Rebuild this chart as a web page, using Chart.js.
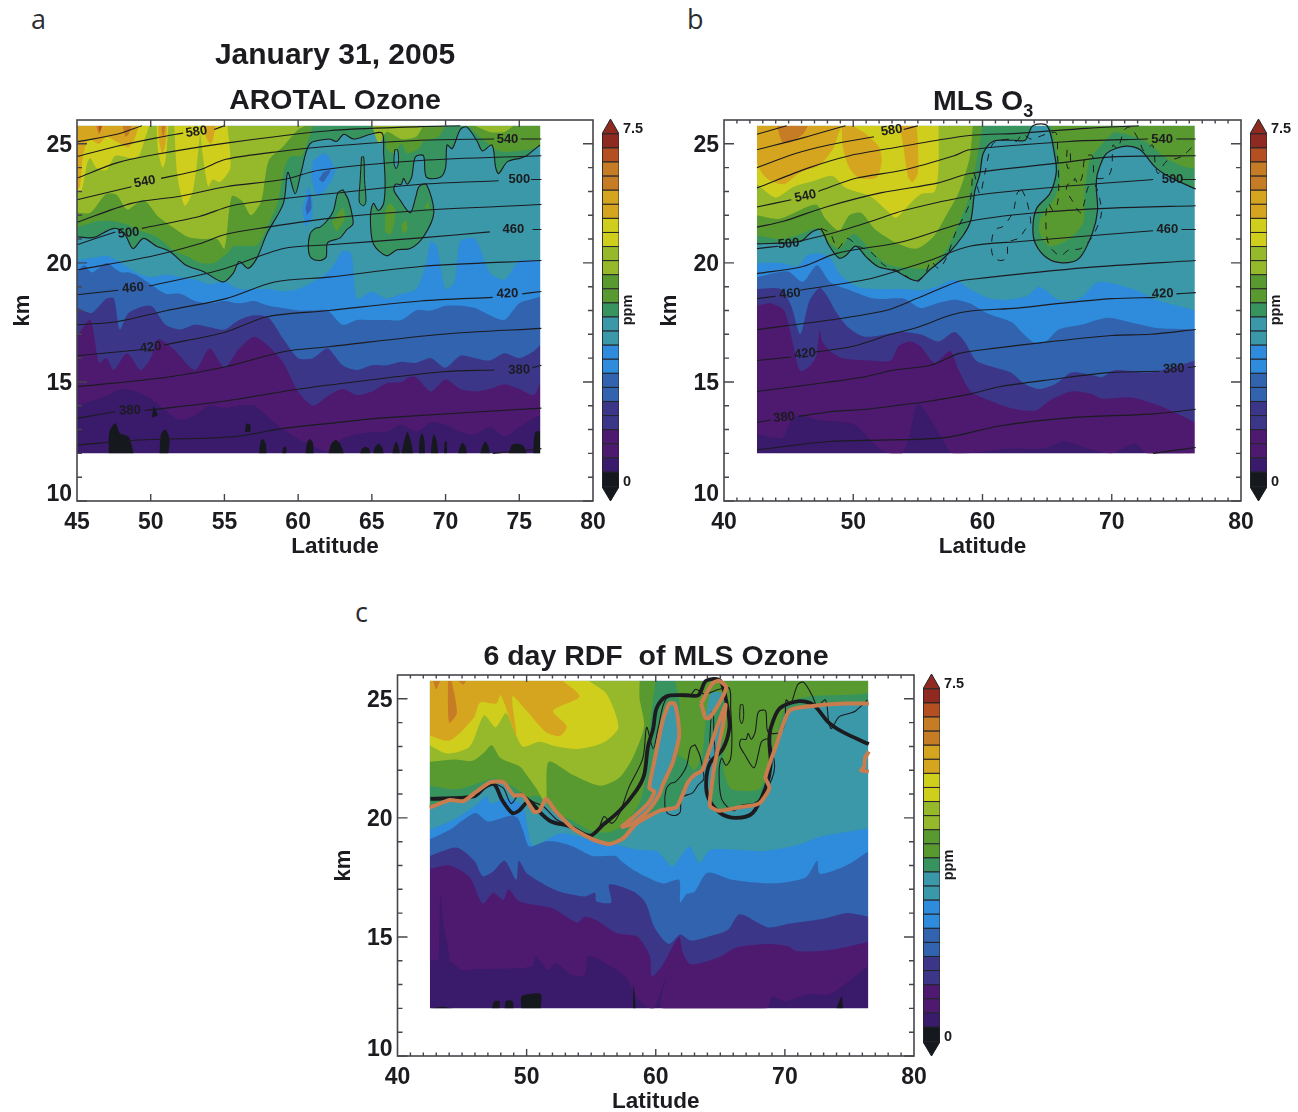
<!DOCTYPE html>
<html><head><meta charset="utf-8">
<script src="https://cdn.jsdelivr.net/npm/chart.js@4"></script>
<style>
html,body{margin:0;padding:0;background:#fff;width:1298px;height:1112px;overflow:hidden}
canvas{position:absolute}
.tag{position:absolute;font:27px "Open Sans",sans-serif;color:#2b2b30;line-height:30px}
</style></head><body>
<div class="tag" style="left:31px;top:4px">a</div>
<div class="tag" style="left:687px;top:4px">b</div>
<div class="tag" style="left:355px;top:597px">c</div>
<script>
const C={dark:'#3a1a6a',purple:'#4d1a70',indigo:'#3c3689',midblue:'#3163ae',blue:'#2f8bdb',teal:'#3a98a8',sea:'#38945e',green:'#589a30',ygreen:'#95b92a',yellow:'#cfce1c',gold:'#d6a51f',orange:'#c67c25',ored:'#b34f20',red:'#8f2a20',black:'#15181c',copper:'#c97c4e',ink:'#1b1b20'};
const TOP=25.76, FONT='"Liberation Sans",Arial,sans-serif';

/* ---------- colour bar ---------- */
const barColors=[C.dark,C.purple,C.purple,C.indigo,C.indigo,C.midblue,C.midblue,C.blue,C.blue,C.teal,C.teal,C.sea,C.green,C.green,C.ygreen,C.ygreen,C.yellow,C.yellow,C.gold,C.gold,C.orange,C.orange,C.ored,C.red];
const barStep=0.3125;

/* ---------- shared tick lists ---------- */
const kmMajor=[10,15,20,25];
const kmMinor=[11,12,13,14,16,17,18,19,21,22,23,24];
const latMajorA=[50,55,60,65,70,75];
const latMajorB=[50,60,70];
const latMinorB=[41,42,43,44,45,46,47,48,49,51,52,53,54,55,56,57,58,59,61,62,63,64,65,66,67,68,69,71,72,73,74,75,76,77,78,79];

/* ---------- panel a: AROTAL, ozone band lower edges [lat,km] ---------- */
const aBase=[[45,12],[76.5,12],[76.5,TOP],[45,TOP]];
const aPurple=[[45,14],[46,14.2],[47,14.4],[48,14.7],[49,14.6],[50,14.3],[51,13.8],[52,13.4],[53,13.6],[54,14],[55,13.9],[56,14],[57,14],[58,13.5],[59,13],[60,12.6],[61,12.3],[62,12.1],[63,12.6],[64,12.8],[65,12.9],[66,12.9],[67,13.2],[68,12.9],[69,13.3],[70,13.2],[71,12.9],[72,12.8],[73,13.1],[74,12.7],[75,13.1],[76,13.5],[76.5,13.6]];
const aIndigo=[[45,16.9],[45.9,17.6],[46.5,15.8],[47,16],[47.5,15.5],[48.4,16.2],[49.3,15.5],[50,16],[50.5,16.8],[51.5,16.4],[53,15.5],[54,16.4],[55,15.6],[56,16.4],[57,16.9],[58,16.5],[59,15.8],[60,14.6],[61,14],[62,14.4],[63,14.7],[64,14.45],[65,14.6],[66,14.95],[67,15],[67.5,15.2],[68,15.2],[69,14.6],[70,15.1],[71,14.7],[72,14.6],[73,14.7],[74,14.9],[75,14.7],[76,14.45],[76.5,15.1]];
const aMidblue=[[45,18.1],[46,17.9],[47,18.5],[47.5,18.5],[47.9,17.2],[48.5,17.9],[50,18.2],[51,17.4],[52,17.2],[53,17.4],[54,17.3],[55,17.2],[56,17.6],[57,17.8],[58,17.7],[59,16.8],[60,16],[61,16],[62,16.4],[63,15.7],[64,15.5],[65,15.7],[66,15.7],[67,15.85],[68,15.8],[69,16],[70,15.6],[71,16.1],[72,16],[73,15.9],[74,16.2],[75,16],[76,16.3],[76.5,16.6]];
const aBlue=[[45,19.6],[45.5,19.9],[46,19.6],[47,20],[47.5,19.8],[48,19.6],[48.5,19.6],[49,19.5],[50,19.1],[51,18.7],[52,18.7],[53,18.4],[54,18.3],[55,18.4],[56,18.3],[57,18.4],[58,18.2],[59,18.1],[60,18],[61,18],[62,18],[63,17.4],[64,17.6],[65,17.6],[66,17.6],[67,17.6],[68,18],[69,18],[70,18.2],[71,18.2],[72,18.1],[73,17.8],[74,17.6],[75,18.3],[76,18.5],[76.5,18.6]];
const aTeal=[[45,20.1],[46,20.2],[47,20.3],[48,20],[49,19.6],[50,19.4],[51,19.5],[52,19.4],[53,19.3],[54,19.1],[55,19.2],[56,18.9],[57,18.9],[58,18.9],[59,18.8],[60,18.9],[61,19.2],[62,19.6],[62.5,20],[63,20.5],[63.6,20.4],[64,18.5],[65,18.8],[66,18.5],[67,18.7],[68,18.9],[68.7,20],[69,20.9],[69.4,20.7],[70,18.9],[70.6,19.2],[71,20.9],[72,21],[73,19.6],[74,19.3],[75,20.1],[76,20.1],[76.5,20.1]];
const aContour=[[45,21.1],[45.8,21.05],[46.3,21.1],[47.5,21.45],[48.2,21.25],[48.8,20.6],[49.5,21.03],[50.4,20.7],[51.3,20.48],[52.4,19.9],[53.6,19.63],[54.9,19.2],[55.6,19.57],[56,20.06],[56.6,19.77],[57.2,20.2],[57.9,21.25],[59,22.5],[59.3,23.8],[59.8,22.9],[60.2,23.8],[60.8,25],[62.1,25.2],[62.6,25.1],[63.1,25.4],[63.75,25.2],[64.9,25.4],[65.7,25.45],[65.8,24.6],[65.9,23.35],[65.8,22.5],[65.45,22.2],[65.1,22.5],[64.9,21.95],[65.1,20.8],[66,20.3],[66.7,20.55],[67.6,20.6],[68.5,21.1],[69.2,22.1],[68.7,23.3],[68.2,23.2],[67.95,22.7],[67.6,22.1],[66.9,22.65],[66.5,23.05],[66.6,23.3],[67,23.3],[67.15,23.55],[67.4,23.3],[67.7,23.6],[67.95,24.45],[68.5,24.5],[68.7,23.6],[69.65,23.6],[70,24],[70.1,24.95],[70.45,24.8],[71,25.6],[71.45,25.7],[72.15,25.1],[72.5,24.7],[73.15,24.95],[73.4,24],[73.6,23.75],[74.2,24.25],[75.1,24.4],[75.5,24.5],[76.4,24.95]];
const aIsland=[[63.05,23.07],[63.4,22.65],[63.7,21.9],[63.7,21.6],[63.3,21.4],[62.85,21.05],[62,20.85],[61.9,20.25],[61.5,20.1],[60.9,20.2],[60.7,20.55],[60.8,21.2],[61.15,21.45],[61.5,21.5],[62,21.8],[62.4,22.2],[62.7,22.95],[63.05,23.07]];
const aLoop1=[[64.3,24.45],[64.2,23.4],[64.15,22.55],[64.45,22.4],[64.6,22.6],[64.5,23.5],[64.45,24.45],[64.3,24.45]];
const aLoop2=[[66.55,24.75],[66.5,24.2],[66.65,23.95],[66.8,24.2],[66.75,24.75],[66.55,24.75]];
const aBlueSpots=[[[60.3,22.2],[60.7,23.2],[61,22.5],[60.9,21.8],[60.5,21.5]],[[61,24.3],[61.8,24.6],[62.5,23.9],[62,23.2],[61.3,22.8],[60.9,23.5]]];
const aIndigoSpots=[[[61.7,23.8],[62.2,23.9],[61.7,23.4],[61.4,23.5]],[[60.5,22.3],[60.8,22.9],[60.9,22.3],[60.6,22]]];
const aGreen=[[45,21.5],[46.4,21.75],[47.5,21.75],[48.4,21.6],[49.3,21.35],[50.4,21.1],[51.6,20.5],[52.5,20.27],[53.4,20],[54.3,20],[55.2,20.4],[55.6,20.7],[57.2,20.75],[57.9,21.5],[58.6,22.5],[59.1,24.05],[59.5,24.47],[60.2,24.47],[60.6,25],[61,TOP]];
const aGreenSpots=[[[65.9,TOP],[66,24.8],[66.5,24.6],[67,25],[67.4,24.6],[68.2,24.8],[68.5,25.1],[69.5,25.3],[70,TOP]],[[71.5,TOP],[72.5,25.2],[73.6,24.7],[75,24.7],[76.5,24.95],[76.5,TOP]],[[65.9,22.2],[66.2,22.5],[66.6,22.2],[66.3,21.2],[65.9,21.3]],[[67,21.6],[67.3,21.8],[67.4,21.4],[67.1,21.2]],[[62.3,21.7],[63,22.3],[63.2,21.9],[62.6,21.3]],[[68.6,22.3],[68.8,22.6],[68.9,22.2]]];
const aYgreen=[[45,22.1],[45.9,22.1],[47,22.9],[47.7,22.85],[48.4,22.24],[49.5,22.65],[50.5,21.95],[51.5,21.5],[52.5,21.1],[53.5,21],[54.5,21],[55,20.6],[55.5,22.8],[56.2,22.6],[56.8,22],[57.5,22.6],[58,24.3],[59,24.9],[60,25.6],[60.5,TOP]];
const aYgreenSpots=[[[65,TOP],[65.5,25],[66,25.5],[67,25.2],[68,25.3],[68.5,TOP]],[[72,TOP],[73,25.5],[74,25.5],[74.6,TOP]]];
const aYellows=[[[45,TOP],[45,23],[45.3,23],[45.7,24.2],[45.9,24.4],[46.3,24],[47,23.9],[47.6,24.5],[48.7,24.4],[49.2,24.5],[49.5,25],[49.9,TOP]],[[50.4,TOP],[50.5,24.7],[50.8,24],[51,24.3],[51.2,TOP]],[[51.6,TOP],[51.8,23.7],[52.3,22.4],[52.8,22.9],[53.1,24],[53.4,TOP]],[[53.3,TOP],[53.6,24.2],[53.9,23.2],[54.2,23.5],[54.7,23.4],[55.4,24],[55.2,TOP]]];
const aGolds=[[[45,TOP],[45,23.1],[45.2,23.2],[45.4,24.5],[45.8,25.2],[46.5,25],[47,25.3],[47.8,25.05],[48.5,24.85],[48.9,25.2],[49.2,TOP]],[[50.5,TOP],[50.6,25],[50.8,24.6],[51,25],[51.1,TOP]],[[53.6,TOP],[53.8,25.2],[54.1,25],[54.3,25.4],[54.4,TOP]]];
const aOranges=[[[46.3,TOP],[46.5,25.4],[46.7,TOP]],[[48.1,TOP],[48.3,25.3],[48.5,25.4],[48.7,TOP]],[[50.7,TOP],[50.85,25.3],[51,TOP]]];
const aReds=[[[46.45,TOP],[46.55,25.5],[46.7,TOP]]];
const aBlacks=[[[47.15,12],[47.2,12.9],[47.6,13.26],[47.9,12.85],[48.5,12.7],[48.85,12]],[[50.6,12],[50.7,12.8],[51,13],[51.27,12.6],[51.2,12]],[[57.35,12],[57.45,12.5],[57.6,12.6],[57.8,12.4],[57.85,12]],[[58.9,12],[59,12.25],[59.1,12.3],[59.2,12.2],[59.2,12]],[[60.5,12],[60.6,12.45],[60.8,12.6],[61,12.45],[61.05,12]],[[56.4,12.9],[56.5,13.25],[56.75,13.2],[56.75,12.9]],[[50.1,13.5],[50.2,13.97],[50.5,13.6]],[[62.07,12],[62.25,12.4],[62.55,12.56],[62.85,12.4],[63.1,12]],[[64.2,12],[64.35,12.2],[64.55,12.28],[64.8,12.2],[64.9,12]],[[65.1,12],[65.2,12.25],[65.45,12.4],[65.7,12.25],[65.8,12]],[[66.4,12],[66.5,12.3],[66.65,12.5],[66.8,12.3],[66.9,12]],[[67,12],[67.2,12.5],[67.4,12.9],[67.65,12.5],[67.8,12]],[[68.2,12],[68.25,12.6],[68.4,12.84],[68.55,12.6],[68.6,12]],[[69,12],[69.08,12.5],[69.2,12.8],[69.4,12.5],[69.5,12]],[[69.9,12],[69.95,12.5],[70.08,12.5],[70.1,12]],[[70.85,12],[71,12.3],[71.15,12.45],[71.35,12.3],[71.45,12]],[[72.35,12],[72.5,12.3],[72.7,12.5],[72.9,12.3],[73,12]],[[74.3,12],[74.5,12.35],[74.9,12.4],[75.3,12.3],[75.5,12]],[[75.95,12],[76,12.6],[76.1,12.9],[76.45,12.9],[76.45,12]]];
const aTheta=[
[[45,25.08],[47.7,25.4],[49.4,TOP]],
[[45,24.47],[47.7,24.9],[50.4,25.25],[52.2,25.45],null,[54.3,25.6],[55,TOP]],
[[45,23.56],[47.7,24.2],[50.2,24.54],[55.1,25.03],[62.1,25.55],[68.3,25.72],[71,TOP]],
[[45,22.65],[48.7,23.2],null,[50.7,23.55],[53.3,23.9],[55.1,24.35],[59,24.7],[62.1,24.9],[68.3,25.15],[73.3,25.2],null,[75.1,25.2],[76.5,25.2]],
[[45,21.7],[48.7,22.5],[52,22.8],[55.1,23.2],[59,23.5],[61.5,23.9],[68.3,24.3],[76.5,24.5]],
[[45,20.76],[47.6,21.3],null,[49.4,21.45],[53.3,21.95],[55.5,22.4],[59,22.7],[62.1,22.9],[68.3,23.3],[73.6,23.45],null,[75.8,23.5],[76.5,23.5]],
[[45,19.7],[50.2,20.3],[53.3,20.8],[55.1,21.2],[57.9,21.5],[62.1,21.87],[68.3,22.2],[76.5,22.45]],
[[45,18.66],[47.8,18.85],null,[49.9,19.03],[54.7,19.7],[59,20.6],[62.1,20.76],[68.3,21.05],[73,21.3],null,[75.9,21.4],[76.5,21.4]],
[[45,17.4],[47.7,17.53],[51.1,18],[55.1,18.5],[58.4,19.2],[62.1,19.4],[68.3,19.85],[76.5,20.1]],
[[45,16.1],[49.3,16.35],null,[50.9,16.55],[55.1,17.1],[57.9,17.74],[62.1,18],[68.3,18.4],[73.2,18.55],null,[75.2,18.7],[76.5,18.8]],
[[45,14.8],[51.1,15.2],[55.1,15.64],[59,16.27],[62.1,16.48],[69.8,17],[76.5,17.25]],
[[45,13.47],[47.6,13.75],null,[49.6,13.8],[55.1,14.2],[59,14.6],[62.1,14.87],[69.8,15.43],[73.3,15.5],null,[75.9,15.6],[76.5,15.7]],
[[45,12.35],[49.2,12.56],[55.6,12.7],[59,13.05],[62.1,13.26],[66,13.5],[76.5,13.9]],
[[73.2,12],[76.5,12.2]]];
const aLabels=[['580',53.1,25.5,-8],['540',49.6,23.4,-11],['500',48.5,21.25,-6],['460',48.8,18.95,-5],['420',50,16.45,-7],['380',48.6,13.8,-2],['540',74.2,25.2,0],['500',75,23.5,0],['460',74.6,21.4,0],['420',74.2,18.7,-2],['380',75,15.5,-2]];

/* ---------- panel b: MLS ---------- */
const bBase=[[42.55,12],[76.5,12],[76.5,TOP],[42.55,TOP]];
const bPurple=[[42.55,12.8],[44.5,12.65],[45.1,13.3],[45.8,13.6],[47.3,13.4],[50.1,13.2],[52,12.2],[52.8,12],[53.8,12],[54.4,12.85],[55,14.1],[56,13.4],[56.9,12.6],[57.7,12],[62.2,12.2],[64.7,12.2],[66.4,12.5],[68.4,12.15],[70,12],[71.8,12.4],[72.7,12],[76.5,12]];
const bIndigo=[[42.55,18.2],[43.6,18.3],[44.65,18],[45.3,16.7],[45.75,15.6],[46.05,15.45],[46.7,15.7],[47.15,16.1],[47.4,17.2],[47.6,16.7],[48.2,16.3],[49.15,16],[51.3,15.9],[52.9,15.9],[53.5,16.5],[54.4,16.7],[55.2,16.5],[56.3,15.8],[57.5,16.3],[58.15,15.5],[59.1,14.6],[60.65,14.2],[62.2,13.9],[64.1,13.8],[65.3,14.25],[66.85,14.6],[68.4,14.5],[69.2,14.3],[71.5,14.35],[73.7,14],[76.5,13.3]];
const bMidblue=[[42.55,18.9],[44.4,18.9],[45.2,18.2],[45.9,17],[46.6,18.4],[47.4,18.95],[48.1,18.5],[48.6,18],[49.6,17.3],[50.9,16.9],[53.7,17.1],[55.2,17],[56.6,16.7],[57.8,17.1],[58.6,16.7],[59.5,15.9],[61,15.6],[62.2,15.4],[63.3,14.9],[64.4,14.7],[65.6,14.9],[66.9,15.4],[68.4,15.3],[69.2,15.2],[70.3,15.5],[73,15.4],[76.5,15.9]];
const bBlue=[[42.55,19.4],[44.9,19.65],[46.1,19.2],[47.2,19.9],[48.2,19.2],[49.5,18.9],[51.6,18.5],[53.9,18.5],[55.2,18.1],[56.5,18.3],[57.8,18.45],[59,18.3],[60.3,17.9],[62.3,17.5],[63.1,17.05],[64,16.65],[64.9,16.7],[65.9,17.2],[67.6,17.4],[69.7,17.7],[71.5,17.5],[73.7,17.25],[76.5,17.2]];
const bTeal=[[42.55,20],[44.4,20],[45.7,19.85],[46.4,20.3],[47.2,20.4],[48.2,20.2],[49,19.5],[50.3,19],[51.8,18.9],[53.9,18.9],[55.2,18.85],[56.5,19],[57.8,19.3],[59,18.9],[60.3,18.55],[61.6,18.45],[63.4,18.6],[64.4,19],[65.9,18.45],[67.5,18.5],[69,19.2],[71.9,18.85],[73.4,18.45],[76.5,18]];
const bContour=[[42.55,20.8],[45.9,20.9],[46.8,21.3],[47.5,21.4],[48.1,20.75],[48.9,20.2],[49.4,20.3],[50.2,20.7],[51,20.25],[51.9,19.85],[53.3,19.65],[54.9,19.25],[55.9,19.7],[57.2,20.3],[58.5,21.15],[59.1,21.8],[59.4,23],[59.8,23.75],[60.06,24.6],[60.8,25.1],[62.4,25.15],[63.3,25.15],[63.9,TOP],[65,TOP],[65.6,24.47],[65.7,23.76],[65.2,22.9],[64.2,22.3],[63.9,21.5],[64.1,20.8],[65,20.2],[66.2,20],[67.5,20.2],[68.5,21.25],[68.9,22.2],[68.8,23.2],[68.9,23.76],[69.6,24.6],[71.1,24.9],[72.2,24.75],[73.4,24],[74.5,23.6],[76.5,23.1]];
const bGreen=[[42.55,21.15],[44.5,21],[45.9,21.2],[47.2,21.45],[47.85,21],[48.9,20.6],[49.7,21.1],[50.2,21.2],[51.3,20.55],[52.6,19.95],[53.9,19.8],[55.9,19.8],[57.2,20.55],[58.2,21.7],[59,22.8],[59.5,24.2],[59.8,25.1],[60,TOP]];
const bGreenR=[[65.3,TOP],[65.8,24.47],[66,23.6],[65.6,22.75],[64.5,21.9],[64.4,21.3],[65.2,20.7],[66.7,21],[67.8,21.7],[67.9,23],[68.3,24.3],[69.6,25.2],[70.3,25.5],[72.6,25.1],[74.5,24.3],[76.5,24],[76.5,TOP]];
const bYgreen=[[42.55,22],[44.3,21.85],[47.1,22.45],[47.85,21.85],[48.9,21.35],[49.7,22],[50.6,22.1],[51.7,21.4],[53.3,20.85],[54.9,20.6],[56.2,21.1],[57.2,22],[58.2,23],[59,24.4],[59.25,TOP]];
const bYellow=[[42.55,23.3],[44,22.75],[45.4,23.2],[47,23.45],[48.4,23.65],[49.4,23.15],[51.3,22.8],[52.6,22.2],[53.3,21.9],[54.6,22.6],[55.3,22.9],[56.3,23],[56.6,24],[56.6,TOP]];
const bGolds=[[[42.55,TOP],[42.55,24.2],[43.3,23.55],[44.6,23.3],[45.9,23.8],[47.4,24.1],[48.45,24.8],[48.85,25.4],[49.1,TOP]],[[49.1,TOP],[49.2,24.85],[49.7,24],[50.5,23.55],[51.8,23.6],[52.2,24.25],[52,24.85],[51,25.4],[50,TOP]],[[53.6,TOP],[53.9,24.8],[54.25,23.6],[54.6,23.4],[55,23.8],[55,25],[54.9,TOP]]];
const bOrange=[[44.1,TOP],[44.5,25.1],[45.1,25.05],[46.1,25.4],[46.5,TOP]];
const bTheta=[
[[42.55,25.4],[44.85,TOP]],
[[42.55,24.75],[46.1,25.25],[49.4,TOP]],
[[42.55,24],[45.6,24.6],[48.1,24.95],[51.6,25.3],null,[53.9,25.6],[55,TOP]],
[[42.55,23.15],[46.6,24],[49.7,24.5],[52.8,24.8],[56.5,25.15],[59,25.35],[63,25.45],[68,25.65],[72.1,TOP]],
[[42.55,22.35],[45.2,22.65],null,[47.3,23],[50.2,23.55],[53.9,23.9],[57.8,24.5],[59,24.75],[66.7,25.1],[72.8,25.2],null,[75,25.2],[76.5,25.2]],
[[42.55,21.5],[44.6,21.75],[47.9,22.35],[52.2,22.95],[56.5,23.35],[59,23.75],[66,24.2],[70,24.45],[76.5,24.5]],
[[42.55,20.6],[44.2,20.7],null,[45.8,20.9],[48.7,21.3],[51.7,21.8],[53.9,22.2],[59,22.8],[66,23.2],[73.2,23.5],null,[75.4,23.5],[76.5,23.5]],
[[42.55,19.55],[46.1,19.85],[48.7,20.4],[53.9,20.9],[59,21.75],[64,22.1],[70,22.3],[76.5,22.4]],
[[42.55,18.5],[44,18.6],null,[45.9,18.85],[51,19.3],[53.9,19.75],[55.9,20.1],[59,20.7],[62.9,20.9],[73.2,21.35],null,[75.4,21.4],[76.5,21.4]],
[[42.55,17.2],[48.2,17.6],[52.5,18],[54.9,18.5],[58,19.2],[59,19.3],[68,19.8],[76.5,20.1]],
[[42.55,15.9],[45.2,16.05],null,[47,16.25],[50,16.5],[52.9,17],[55,17.3],[57.5,17.8],[59.1,17.98],[62.7,18.1],[66,18.3],[70,18.5],[73.4,18.55],null,[75,18.7],[76.5,18.75]],
[[42.55,14.6],[48.2,15],[50.7,15.2],[53.2,15.5],[56,15.7],[58.2,16.2],[60,16.35],[63.75,16.6],[70,16.95],[73,17],[76.5,17.2]],
[[42.55,13.3],[43.6,13.4],null,[45.75,13.55],[48.2,13.75],[51,13.85],[53.2,14],[56,14.2],[59.1,14.5],[61.3,14.8],[65.3,15.1],[70,15.4],[73.7,15.45],null,[75.9,15.6],[76.5,15.65]],
[[42.55,12.15],[48.2,12.5],[56.9,12.65],[61.3,13.15],[66.85,13.5],[73,13.65],[76.5,13.85]],
[[73.2,12],[76.5,12.25]]];
const bLabels=[['580',52.97,25.56,-8],['540',46.3,22.8,-12],['500',45,20.8,-5],['460',45.1,18.7,-5],['420',46.27,16.18,-6],['380',44.65,13.5,-6],['540',73.9,25.2,0],['500',74.7,23.5,0],['460',74.3,21.4,0],['420',73.95,18.7,-2],['380',74.8,15.55,-3]];

/* ---------- panel c: RDF ---------- */
const cBase=[[42.5,12],[76.5,12],[76.5,TOP],[42.5,TOP]];
const cPurple=[[42.5,14],[44,14],[45,13.6],[46.2,13.65],[50.4,13.75],[50.7,14.2],[51.7,13.6],[52.3,13.9],[53.5,13.4],[54.5,13.4],[54.8,14.2],[56.4,13.8],[57.7,13.3],[58.6,12.4],[59.55,12],[59.9,12],[60.8,13.3],[60.5,12],[68.6,12],[69,12.5],[70,12.3],[71.9,12.6],[73.5,12.6],[76.5,13.8]];
const cIndigo=[[42.5,17.85],[44.05,18],[45.6,17.5],[46.6,16.4],[47.4,16.85],[48.2,16.55],[48.6,17],[49.4,16.5],[52,16.2],[53.9,15.6],[54.5,15.85],[55.4,15.7],[57,15.15],[58.6,15],[59.55,14.2],[59.7,13.35],[60.5,13.8],[61.8,15],[62.1,14.35],[62.7,13.85],[64.9,14.15],[66.2,14.55],[68.7,14.7],[70.3,14.6],[70.9,14.4],[73.5,14.45],[76.5,14.8]];
const cMidblue=[[42.5,18.4],[44.6,18.75],[45.95,18.2],[46.6,17.55],[47.4,17.75],[48.3,18.2],[49.2,17.4],[49.4,18.2],[50.05,17.65],[52.3,16.95],[54.5,16.7],[55.3,16.85],[55.4,16.5],[56.55,16.45],[56.4,17.2],[58.3,16.9],[59.2,16.45],[59.9,15.4],[61,14.7],[61.9,15.1],[62.7,14.85],[64,15],[65.6,15.3],[66.5,15.95],[68.7,15.4],[70.3,15.55],[72.85,15.75],[74.75,16],[76.5,15.85]];
const cBlue=[[42.5,19.1],[44.06,19.5],[46,20.2],[47,19.85],[48.8,20.1],[49.3,20],[49.7,19.5],[50.2,18.8],[51.3,19],[52.3,19],[53.6,18.8],[55.1,18.4],[56.9,18.4],[57.3,18.2],[58.3,17.8],[60.5,17.25],[61.8,17.4],[61.9,16.45],[62.4,16.8],[63,16.9],[64,17.7],[65.9,17.4],[69,17.25],[71.6,17.5],[72.5,18.2],[72.7,17.65],[74.75,18],[76.5,18.6]];
const cTeal=[[42.5,19.5],[44.6,20],[46,20.5],[46.9,20.9],[47.2,20.6],[48.5,20.8],[49.7,20.5],[50.1,19.5],[50.4,18.85],[51.3,19],[52.6,19.35],[54.2,19.2],[56.2,19],[57.5,18.8],[58.8,18.65],[60.1,18.6],[60.8,18.2],[61.3,17.95],[62.6,18.8],[63.4,18.1],[64.2,18.65],[66.7,18.65],[68.3,18.6],[70.9,18.85],[72.7,19.2],[76.5,19.56]];
const cCopperMain=[[42.5,20.43],[44.06,20.75],[45.1,20.7],[46.1,21.1],[47.2,21.5],[48.2,21.5],[49,20.95],[49.7,20.95],[50.6,20.25],[51,20.3],[51.5,20.8],[52.3,20.25],[53.6,19.55],[55.1,19.1],[56.4,18.9],[57.5,19.15],[58.5,19.76],[60.3,20.3],[61.6,20.45],[62.1,21],[62.5,21.5],[63,21.8],[63.6,22],[64.15,22.85],[64.7,23.75],[65.4,24.75],[65.2,23.9],[64.55,22.2],[64.3,21.2],[64.2,20.5],[64.9,20.3],[66.5,20.45],[68,20.6],[68.8,21.25],[68.5,21.7],[69.3,23],[70.35,24.5],[72.15,24.7],[74.7,24.8],[76.5,24.8]];
const cCopperLoop=[[57.3,19.6],[58.2,20],[59.4,20.6],[59.9,21.1],[59.5,21.25],[59.9,22.4],[60.55,24.1],[61.05,24.8],[61.45,24.8],[61.7,24.25],[61.8,23.4],[61.3,22.3],[60.55,21.4],[60.3,21],[59.4,20.3],[58.2,19.75],[57.3,19.6]];
const cCopperTop=[[63.5,24.8],[64.4,25.65],[64.9,TOP],[65.45,25.5],[65.05,24.95],[64.15,24.2],[63.85,24.2],[63.6,24.65],[63.5,24.8]];
const cCopperEdge=[[76.5,22.79],[76.2,22.5],[76.15,22.15],[75.9,22],[76.5,21.95]];
const cGreen=[[42.5,21.35],[44.6,21.2],[46.5,21.5],[47.5,21.65],[49,21.3],[50,20.9],[51,20.9],[52,20.3],[53.5,19.9],[55,19.45],[56.5,19.4],[57.6,19.75],[58.8,20.7],[59.3,22],[59.5,23.5],[59.8,25],[60,TOP]];
const cGreenR=[[61.5,TOP],[61.8,25],[61.9,24],[61.7,22.7],[62.4,22.4],[63,22],[63.6,22.7],[64.2,25.2],[65.3,25.2],[65.2,23.5],[65.3,21.9],[65.9,21.2],[68,21.2],[68.6,21.9],[69.2,23.1],[70.2,24.8],[72,25.1],[76.5,25.25],[76.5,TOP]];
const cYgreen=[[42.5,22.35],[44.4,22.45],[45.8,22.4],[46.7,22.75],[47.3,23.05],[48,22.5],[49.5,22.15],[50,21.8],[50.8,21.2],[51.5,20.6],[51.7,22.35],[53.6,21.8],[55.7,21.35],[57.2,21.7],[58.2,22.5],[59.1,23.85],[58.75,25],[58.75,TOP]];
const cYellow=[[42.5,23.05],[43.85,22.7],[45.6,23],[46.7,24.3],[47.6,23.8],[48.4,24.4],[49,23.7],[49.7,23],[51,23.2],[52.3,23],[54.1,22.9],[55.9,23.15],[57.1,23.8],[56.2,25.2],[54.8,TOP]];
const cGold=[[42.5,23.45],[44.06,23.25],[45.9,24.2],[46.4,24.85],[47.65,24.8],[48,25.15],[49.2,23.45],[48.9,25.1],[50,24.5],[51.5,23.6],[52.6,23.45],[53.1,23.85],[52.05,24.5],[54.1,25.1],[52.8,TOP]];
const cOranges=[[[43.9,TOP],[44,24],[44.6,24.4],[44.2,TOP]],[[42.75,TOP],[43,25.4],[43.3,TOP]],[[44.7,TOP],[45.1,25.6],[45.3,TOP]]];
const cDarkStreak=[[43.3,16.8],[43.6,15.4],[44,14],[43.2,14]];
const cBlacks=[[[42.6,12],[43.5,12.07],[44.3,12]],[[47.3,12],[47.5,12.3],[47.9,12.3],[47.9,12]],[[48.3,12],[48.4,12.3],[48.9,12.3],[49,12]],[[49.6,12],[49.6,12.5],[50.3,12.6],[51.1,12.6],[51.1,12]],[[58.25,12],[58.3,13],[58.45,12]],[[74,12],[74.4,12.5],[74.5,12]]];

/* ---------- chart building ---------- */
const pts=l=>l.map(p=>p?{x:p[0],y:p[1]}:{x:null,y:null});
const band=l=>{const a=l[0],z=l[l.length-1];return [...l,z,[z[0],TOP],[z[0],TOP],[a[0],TOP]];};
const fillDs=(l,c,t=0.25)=>({data:pts(l),showLine:true,fill:'shape',backgroundColor:c,borderColor:c,borderWidth:0,pointRadius:0,tension:t});
const lineDs=(l,c,w,t=0.3,dash=[])=>({data:pts(l),showLine:true,fill:false,borderColor:c,borderWidth:w,pointRadius:0,tension:t,borderDash:dash,spanGaps:false});
const ordered=a=>a.map((d,i)=>({...d,order:a.length-i}));
/* white surround that trims spline overshoot back to the data window */
const masks=(xmin,l0,l1)=>[[[xmin,10.02],[79.98,10.02],[79.98,12],[xmin,12]],[[xmin,TOP],[79.98,TOP],[79.98,25.98],[xmin,25.98]],[[l1,10.02],[79.98,10.02],[79.98,25.98],[l1,25.98]],[[xmin,10.02],[l0,10.02],[l0,25.98],[xmin,25.98]]].map(l=>fillDs(l,'#ffffff',0));

const frame={id:'frame',afterDatasetsDraw(ch,_,o){
  const g=ch.ctx,A=ch.chartArea,X=ch.scales.x,Y=ch.scales.y;g.save();
  g.strokeStyle='#45454c';g.lineWidth=1.4;g.beginPath();
  const vt=(v,l)=>{const p=X.getPixelForValue(v);g.moveTo(p,A.bottom);g.lineTo(p,A.bottom-l);g.moveTo(p,A.top);g.lineTo(p,A.top+l);};
  const ht=(v,l)=>{const p=Y.getPixelForValue(v);g.moveTo(A.left,p);g.lineTo(A.left+l,p);g.moveTo(A.right,p);g.lineTo(A.right-l,p);};
  o.xMajor.forEach(v=>vt(v,7));o.xMinor.forEach(v=>vt(v,3.5));kmMajor.forEach(v=>ht(v,10));kmMinor.forEach(v=>ht(v,5));
  g.stroke();g.lineWidth=1.6;g.strokeRect(A.left,A.top,A.right-A.left,A.bottom-A.top);
  g.textBaseline='middle';g.fillStyle=C.ink;
  (o.labels||[]).forEach(([t,la,km,an])=>{g.save();g.translate(X.getPixelForValue(la),Y.getPixelForValue(km));g.rotate(an*Math.PI/180);g.font='bold 13px '+FONT;g.textAlign='center';g.fillText(t,0,0);g.restore();});
  g.font='bold 23px '+FONT;g.textAlign='right';g.fillText('10',A.left-5,Y.getPixelForValue(10)-6);
  if(o.sub){const mid=(A.left+A.right)/2-49.5;g.textAlign='left';g.textBaseline='alphabetic';g.font='bold 28.5px '+FONT;g.fillText(o.sub[0],mid,A.top-10);const w=g.measureText(o.sub[0]).width;g.font='bold 18px '+FONT;g.fillText(o.sub[1],mid+w,A.top-3);}
  g.restore();}};

function panel(id,left,top,w,h,xmin,xstep,heads,padTop,sub,xMajor,xMinor,labels,layers,plotLeft,plotRight){
  const c=document.createElement('canvas');c.width=w;c.height=h;c.style.left=left+'px';c.style.top=top+'px';c.id=id;document.body.appendChild(c);
  new Chart(c,{type:'scatter',data:{datasets:ordered(layers)},plugins:[frame],options:{
    responsive:false,animation:false,events:[],
    layout:{padding:{left:0,right:0,top:padTop,bottom:0}},
    plugins:{legend:{display:false},tooltip:{enabled:false},
      title:heads.title||{display:false},subtitle:heads.subtitle||{display:false},
      frame:{xMajor,xMinor,labels,sub}},
    scales:{
      x:{type:'linear',min:xmin,max:80,afterFit:s=>{s.height=69;},
        ticks:{stepSize:xstep,autoSkip:false,maxRotation:0,padding:8,color:C.ink,font:{family:FONT,size:23,weight:'bold'},includeBounds:false},
        grid:{display:false,drawTicks:false},border:{display:false},
        title:{display:true,text:'Latitude',color:C.ink,font:{family:FONT,size:22.5,weight:'bold'},padding:{top:0,bottom:10}}},
      y:{type:'linear',min:10,max:26,afterFit:s=>{s.width=plotLeft;},
        ticks:{stepSize:5,autoSkip:false,padding:5,labelOffset:2,includeBounds:false,color:C.ink,font:{family:FONT,size:23,weight:'bold'},callback:v=>v===10?'':v},
        grid:{display:false,drawTicks:false},border:{display:false},
        title:{display:true,text:'km',color:C.ink,font:{family:FONT,size:22,weight:'bold'},padding:{top:7+plotLeft-74,bottom:0}}},
      yRight:{type:'linear',axis:'y',position:'right',min:10,max:26,afterFit:s=>{s.width=w-plotRight;},ticks:{display:false},grid:{display:false},border:{display:false}}
    }}});
}
const head=(text,size,lh,top,bottom)=>({display:true,text,color:C.ink,font:{family:FONT,size,weight:'bold',lineHeight:lh/size},padding:{top,bottom}});

const barText={id:'barText',afterDatasetsDraw(ch){
  const g=ch.ctx,A=ch.chartArea,Y=ch.scales.y;g.save();g.fillStyle=C.ink;g.font='bold 14.5px '+FONT;g.textBaseline='middle';g.textAlign='left';
  g.fillText('7.5',A.right+4,Y.getPixelForValue(7.5)-5);g.fillText('0',A.right+4,Y.getPixelForValue(0)+10);
  g.translate(A.right+9,(A.top+A.bottom)/2);g.rotate(-Math.PI/2);g.textAlign='center';g.fillText('ppm',0,0);g.restore();}};
function colorbar(left,top){
  const c=document.createElement('canvas');c.width=70;c.height=420;c.style.left=left+'px';c.style.top=top+'px';document.body.appendChild(c);
  const cell=(lo,hi,col)=>({data:pts([[0,lo],[1,lo],[1,hi],[0,hi],[0,lo]]),showLine:true,fill:'shape',backgroundColor:col,borderColor:'#24242a',borderWidth:1,pointRadius:0});
  const ds=barColors.map((col,i)=>cell(i*barStep,(i+1)*barStep,col));
  ds.push(cell(-0.33,0,C.black));
  ds.push({data:pts([[0,-0.33],[1,-0.33],[0.5,-0.645],[0,-0.33]]),showLine:true,fill:'shape',backgroundColor:C.black,borderColor:C.black,borderWidth:1,pointRadius:0});
  ds.push({data:pts([[0,7.5],[1,7.5],[0.5,7.83],[0,7.5]]),showLine:true,fill:'shape',backgroundColor:C.red,borderColor:'#24242a',borderWidth:1,pointRadius:0});
  new Chart(c,{type:'scatter',data:{datasets:ds},plugins:[barText],options:{responsive:false,animation:false,events:[],
    layout:{padding:{left:2,right:51,top:19,bottom:19}},
    plugins:{legend:{display:false},tooltip:{enabled:false}},
    scales:{x:{type:'linear',min:0,max:1,display:false},y:{type:'linear',min:-0.645,max:7.83,display:false}}}});
}

/* panel a layers */
const la=[fillDs(aBase,C.dark,0),fillDs(band(aPurple),C.purple),fillDs(band(aIndigo),C.indigo),fillDs(band(aMidblue),C.midblue),fillDs(band(aBlue),C.blue),fillDs(band(aTeal),C.teal),
 ...aBlueSpots.map(l=>fillDs(l,C.blue)),...aIndigoSpots.map(l=>fillDs(l,C.midblue)),
 fillDs(band(aContour),C.sea),fillDs(aIsland,C.sea),fillDs(aLoop1,C.sea),fillDs(aLoop2,C.teal),
 fillDs(band(aGreen),C.green),...aGreenSpots.map(l=>fillDs(l,C.green)),
 fillDs(band(aYgreen),C.ygreen),...aYgreenSpots.map(l=>fillDs(l,C.ygreen)),
 ...aYellows.map(l=>fillDs(l,C.yellow)),...aGolds.map(l=>fillDs(l,C.gold)),...aOranges.map(l=>fillDs(l,C.orange)),...aReds.map(l=>fillDs(l,C.ored)),
 ...aBlacks.map(l=>fillDs(l,C.black)),...masks(45.01,45.01,76.42),
 lineDs(aContour,C.ink,1.1),lineDs(aIsland,C.ink,1.1),lineDs(aLoop1,C.ink,1),lineDs(aLoop2,C.ink,1),
 ...aTheta.map(l=>lineDs(l,C.ink,1.1))];
panel('pa',0,-1,670,571,45,5,{title:head('January 31, 2005',30,36,38.5,0),subtitle:head('AROTAL Ozone',28.5,34,11,1.5)},0,null,latMajorA,[],aLabels,la,77,593);

/* panel b layers */
const dashed=[7,7];
const lb=[fillDs(bBase,C.dark,0),fillDs(band(bPurple),C.purple),fillDs(band(bIndigo),C.indigo),fillDs(band(bMidblue),C.midblue),fillDs(band(bBlue),C.blue),fillDs(band(bTeal),C.teal),
 fillDs(band(bContour),C.sea),fillDs(band(bGreen),C.green),fillDs(bGreenR,C.green),fillDs(band(bYgreen),C.ygreen),fillDs(band(bYellow),C.yellow),
 ...bGolds.map(l=>fillDs(l,C.gold)),fillDs(bOrange,C.orange),...masks(40.01,42.55,76.42),
 lineDs(bContour,C.ink,1.2),lineDs(aContour.slice(3),C.ink,1,0.3,dashed),lineDs(aIsland,C.ink,1,0.3,dashed),lineDs(aLoop2,C.ink,1,0.3,dashed),
 ...bTheta.map(l=>lineDs(l,C.ink,1.1))];
panel('pb',650,-1,665,571,40,10,{},121,['MLS O','3'],latMajorB,latMinorB,bLabels,lb,74,591);

/* panel c layers */
const lc=[fillDs(cBase,C.dark,0),fillDs(band(cPurple),C.purple),fillDs(cDarkStreak,C.dark),fillDs(band(cIndigo),C.indigo),fillDs(band(cMidblue),C.midblue),fillDs(band(cBlue),C.blue),fillDs(band(cTeal),C.teal),
 fillDs(band(cCopperMain),C.sea),fillDs(cCopperLoop,C.teal),fillDs(cCopperTop,C.teal),
 fillDs(band(cGreen),C.green),fillDs(cGreenR,C.green),fillDs(band(cYgreen),C.ygreen),fillDs(band(cYellow),C.yellow),fillDs(band(cGold),C.gold),...cOranges.map(l=>fillDs(l,C.orange)),
 ...cBlacks.map(l=>fillDs(l,C.black)),...masks(40.01,42.5,76.45),
 lineDs(aContour.slice(3),C.ink,1.1),lineDs(aIsland,C.ink,1.1),lineDs(aLoop1,C.ink,1),lineDs(aLoop2,C.ink,1),
 lineDs(bContour,C.ink,3.8),
 lineDs(cCopperMain,C.copper,4,0.2),lineDs(cCopperLoop,C.copper,4,0.2),lineDs(cCopperTop,C.copper,4,0.2),lineDs(cCopperEdge,C.copper,4,0.2)];
panel('pc',321,570,670,555,40,10,{title:head('6 day RDF  of MLS Ozone',28.5,35,70,0)},0,null,latMajorB,latMinorB,[],lc,76.5,593);

colorbar(600,100);colorbar(1248,100);colorbar(921,655);
</script>
</body></html>
